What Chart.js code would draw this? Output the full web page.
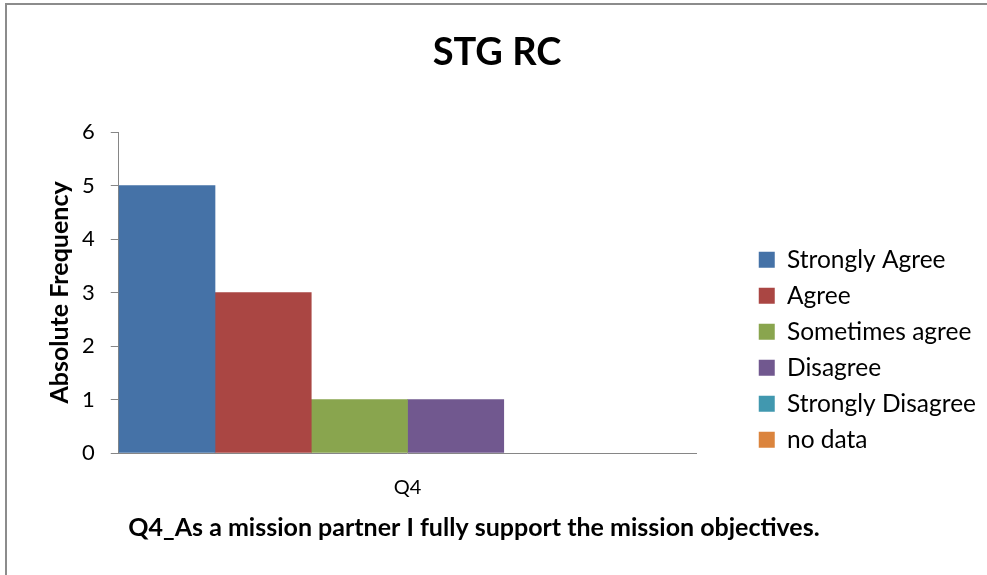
<!DOCTYPE html>
<html>
<head>
<meta charset="utf-8">
<title>STG RC</title>
<script src="https://cdn.jsdelivr.net/npm/chart.js@4/dist/chart.umd.min.js"></script>
<style>
  html, body { margin: 0; padding: 0; background: #fff; }
  #wrap { position: relative; width: 987px; height: 575px; overflow: hidden; }
  #frame {
    position: absolute; left: 5px; top: 3px; right: -10px; bottom: -10px;
    border-top: 2px solid #8c8c8c; border-left: 2px solid #8c8c8c;
  }
  #chart { position: absolute; left: 0; top: 0; }
</style>
</head>
<body>
<div id="wrap">
  <div id="frame"></div>
  <canvas id="chart" width="987" height="575"></canvas>
</div>
<script>
// ---- data ----
const categories  = ["Q4"];
const seriesNames = ["Strongly Agree", "Agree", "Sometimes agree", "Disagree", "Strongly Disagree", "no data"];
const seriesVals  = [[5], [3], [1], [1], [0], [0]];
const seriesCols  = ["#4572A7", "#AA4643", "#89A54E", "#71588F", "#4198AF", "#DB843D"];
const yTicks      = [0, 1, 2, 3, 4, 5, 6];

const chartTitle  = "STG RC";
const yTitle      = "Absolute Frequency";
const questionTxt = "Q4_As a mission partner I fully support the mission objectives.";

const FONT = "Lato, 'Open Sans', sans-serif";
const AXIS = "#868686";

// chart title and question text: Excel centres them on different spans,
// so they are drawn here rather than through the title plugin
const textPlugin = {
  id: "chartTexts",
  afterDraw(chart) {
    const ctx = chart.ctx;
    ctx.save();
    ctx.fillStyle = "#000";
    ctx.textAlign = "center";
    ctx.textBaseline = "middle";
    ctx.font = "bold 38px " + FONT;
    ctx.fillText(chartTitle, 497, 53);
    ctx.font = "bold 25px " + FONT;
    ctx.fillText(questionTxt, 474, 528);
    ctx.restore();
  }
};

// move the legend block so it sits like the original (right of a gap, lower down)
const legendShift = {
  id: "legendShift",
  afterLayout(chart) {
    const lg = chart.legend;
    if (!lg) return;
    const dx = 51, dy = -59.5;
    lg.left += dx; lg.right += dx;
    lg.top += dy;  lg.bottom += dy;
  }
};

new Chart(document.getElementById("chart"), {
  type: "bar",
  data: {
    labels: categories,
    datasets: seriesNames.map((name, i) => ({
      label: name,
      data: seriesVals[i],
      backgroundColor: seriesCols[i],
      borderWidth: 0,
      barPercentage: 1,
      categoryPercentage: 1,
      // no hairline for empty bars
      inflateAmount: (c) => (c.raw === 0 ? 0 : "auto"),
    })),
  },
  options: {
    responsive: false,
    animation: false,
    layout: { padding: { left: 10, right: 62, top: 132, bottom: 52 } },
    plugins: {
      title: { display: false },
      legend: {
        position: "right",
        align: "end",
        labels: {
          color: "#000",
          font: { family: FONT, size: 24.5 },
          boxWidth: 16,
          boxHeight: 16,
          padding: 11.5,
        },
      },
      tooltip: { enabled: false },
    },
    scales: {
      x: {
        z: 1,
        grid: { display: false, drawTicks: false },
        border: { display: true, color: AXIS, width: 1 },
        ticks: { color: "#000", font: { family: FONT, size: 20 }, padding: 23 },
      },
      y: {
        min: 0,
        max: 6,
        afterBuildTicks: (axis) => { axis.ticks = yTicks.map(v => ({ value: v })); },
        grid: { drawOnChartArea: false, drawTicks: true, tickLength: 8, color: AXIS },
        border: { display: true, color: AXIS, width: 1 },
        ticks: { color: "#000", font: { family: FONT, size: 22 }, padding: 16 },
        title: {
          display: true,
          text: yTitle,
          color: "#000",
          font: { family: FONT, size: 25, weight: "bold" },
          padding: { top: 35, bottom: -9 },
        },
      },
    },
  },
  plugins: [textPlugin, legendShift],
});
</script>
</body>
</html>
